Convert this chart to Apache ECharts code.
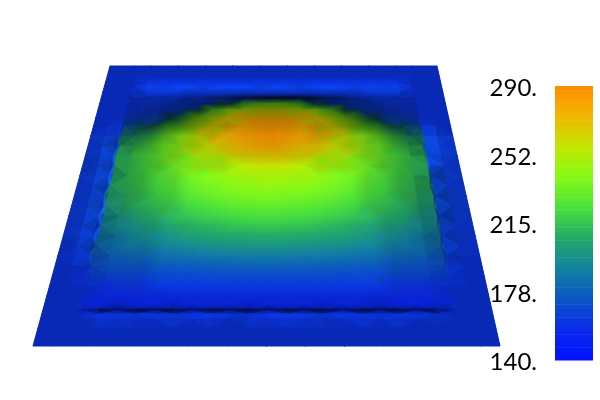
<!DOCTYPE html>
<html>
<head>
<meta charset="utf-8">
<style>html,body{margin:0;padding:0;background:#fff}#main{width:600px;height:400px}</style>
<script src="https://cdn.jsdelivr.net/npm/echarts@6/dist/echarts.min.js"></script>
</head>
<body>
<div id="main"></div>
<script>
// mesh rows, measured as distance from the front edge of the plate
var rowLevels = [280, 270, 263, 259, 254, 248, 242, 236, 228, 220, 210, 200, 190, 180, 170, 160, 150, 140, 130, 120, 110, 100, 90, 80, 70, 60, 50, 42, 37, 35, 32, 27, 18, 0];
// mesh columns across the plate, in 24ths of its width
var colLevels = [0, 1, 1.8, 2.1, 3, 4, 5, 6, 7, 8, 9, 10, 11, 12, 13, 14, 15, 16, 17, 18, 19, 20, 21, 21.9, 22.1, 23, 24];

// temperature at each mesh vertex, back row first
var temps = [
[160,160,160,160,160,160,160,160,160,160,160,160,160,160,160,160,160,160,160,160,160,160,160,160,160,160,160],
[160,160,160,160,160,160,160,160,160,160,160,160,160,160,160,160,160,160,160,160,160,160,160,160,160,160,160],
[160,160,160,160,160,160,160,160,160,160,160,160,160,160,160,160,160,160,160,160,160,160,160,160,160,160,160],
[160,160,160,160,164,164,164,164,164,164,164,164,164,164,164,164,164,164,164,164,164,164,164,160,160,160,160],
[160,160,160,160,162,162,162,162,162,162,162,162,162,162,162,162,162,162,162,162,162,162,162,160,160,160,160],
[160,160,160,160,162,162,162,162,162,162,162,162,162,162,162,162,162,162,162,162,162,162,162,160,160,160,160],
[160,160,160,160,162,162,162,162,162,175,200,222,235,240,235,222,200,175,162,162,162,162,162,160,160,160,160],
[160,160,160,160,162,162,162,170,205,232,246,255,260,262,260,255,246,232,205,170,162,162,162,160,160,160,160],
[160,160,160,162,165,172,195,222,243,256,266,272,276,277,276,272,266,256,243,222,195,172,165,162,160,160,160],
[160,160,162,170,182,200,222,238,252,264,273,279,283,285,283,279,273,264,252,238,222,200,182,170,162,160,160],
[160,165,165,198,206,219,233,245,256,266,274,280,284,286,283,278,274,266,256,245,233,219,206,198,165,165,160],
[160,168,168,205,213,224,235,245,254,262,270,274,279,280,276,272,268,262,254,245,235,224,213,205,168,168,160],
[160,165,166,208,216,225,234,242,249,255,261,265,267,269,267,264,261,255,249,242,234,225,216,208,166,165,160],
[160,168,168,208,215,222,229,236,242,247,252,255,257,258,257,255,252,247,242,236,229,222,215,208,168,168,160],
[160,165,166,207,214,220,226,231,236,241,245,247,249,250,249,247,245,241,236,231,226,220,214,207,166,165,160],
[160,168,168,205,213,218,223,228,232,236,239,242,243,244,243,242,239,236,232,228,223,218,213,205,168,168,160],
[160,165,166,202,210,215,219,223,227,231,234,236,237,238,237,236,234,231,227,223,219,215,210,202,166,165,160],
[160,168,168,198,206,210,214,218,221,224,227,229,230,231,230,229,227,224,221,218,214,210,206,198,168,168,160],
[160,165,166,194,201,205,209,212,215,218,220,222,223,224,223,222,220,218,215,212,209,205,201,194,166,165,160],
[160,166,166,190,195,198,201,204,207,210,212,214,215,215,215,214,212,210,207,204,201,198,195,190,166,166,160],
[160,164,165,185,190,193,196,198,201,203,205,206,207,207,207,206,205,203,201,198,196,193,190,185,165,164,160],
[160,164,165,180,184,187,189,191,193,195,196,197,198,198,198,197,196,195,193,191,189,187,184,180,165,164,160],
[160,162,164,175,178,180,181,183,184,186,187,187,188,188,188,187,187,186,184,183,181,180,178,175,164,162,160],
[160,162,162,170,172,173,174,175,176,176,177,177,178,178,178,177,177,176,176,175,174,173,172,170,162,162,160],
[160,160,160,165,166,167,167,168,168,168,169,169,169,169,169,169,169,168,168,168,167,167,166,165,160,160,160],
[160,160,160,160,160,160,161,161,161,162,162,162,162,162,162,162,162,162,161,161,161,160,160,160,160,160,160],
[160,160,160,158,156,156,156,156,157,157,157,157,157,157,157,157,157,157,157,156,156,156,156,158,160,160,160],
[160,160,160,157,155,155,155,155,155,155,155,155,155,155,155,155,155,155,155,155,155,155,155,157,160,160,160],
[160,160,160,157,155,155,155,155,155,155,155,155,155,155,155,155,155,155,155,155,155,155,155,157,160,160,160],
[160,160,160,157,155,155,155,155,155,155,155,155,155,155,155,155,155,155,155,155,155,155,155,157,160,160,160],
[160,160,160,160,160,160,160,160,160,160,160,160,160,160,160,160,160,160,160,160,160,160,160,160,160,160,160],
[160,160,160,160,162,162,162,162,162,162,162,162,162,162,162,162,162,162,162,162,162,162,162,160,160,160,160],
[160,160,160,160,160,160,160,160,160,160,160,160,160,160,160,160,160,160,160,160,160,160,160,160,160,160,160],
[160,160,160,160,160,160,160,160,160,160,160,160,160,160,160,160,160,160,160,160,160,160,160,160,160,160,160]
];

// surface lighting per vertex, one hex digit per column, tenths of full brightness
// each row: left wall + dome + right wall
var lighting = [
"8888" + "8888888888888888888" + "8888",
"8888" + "8888888888888888888" + "8888",
"8888" + "AAAAAAAAAAAAAAAAAAA" + "8888",
"8888" + "BABBABBBABBABBBABAB" + "8888",
"8888" + "AAA9999999999999AAA" + "8888",
"8887" + "7776654322223456777" + "7888",
"8887" + "7766543555553456677" + "7888",
"8887" + "7665356666666535667" + "7888",
"8887" + "6634567777777654366" + "7888",
"8896" + "5455677888887765545" + "6988",
"8996" + "6678889999998888766" + "6C98",
"8967" + "7788899999999988877" + "69B8",
"89C9" + "8888999999999998888" + "7B98",
"8868" + "8889999AAAAA9999888" + "9C98",
"89C6" + "8899AAAAAAAAAAA9988" + "8598",
"8959" + "8899AAAAAAAAAAA9988" + "6C98",
"88B7" + "8899AAAAAAAAAAA9988" + "9688",
"896A" + "8999AAAAAAAAAAA9998" + "7C98",
"88C6" + "899AAAAAAAAAAAAA998" + "9588",
"8958" + "999AAAAAAAAAAAAA999" + "7B98",
"89C7" + "899AAAAAAAAAAAAA998" + "8688",
"8868" + "999AAAAAAAAAAAAA999" + "7C98",
"89B7" + "999AAAAAAAAAAAAA999" + "8788",
"8878" + "999AAAAAAAAAAAAA999" + "8A88",
"8898" + "999AAAAAAAAAAAAA999" + "8988",
"8888" + "999AAAAAAAAAAAAA999" + "8888",
"8888" + "9999999999999999999" + "8888",
"8889" + "9899899989998998998" + "9888",
"8888" + "7676767676767676767" + "7888",
"8887" + "2321232123212321232" + "7888",
"8888" + "A9AB9ABA9AB9ABA9AB9" + "8888",
"8888" + "9A89A9A89A9A89A9A89" + "8888",
"8888" + "8888888888888888888" + "8888",
"8888" + "8888888888888888888" + "8888"
];

var colorStops = ["#0010ff", "#0a2aec", "#0a54c4", "#1282a0", "#22a868", "#48e03c", "#84fa18", "#c0e800", "#f0b800", "#ff8c00"];
var tickValues = [140, 177.5, 215, 252.5, 290];
var tickLabels = ["140.", "178.", "215.", "252.", "290."];

var tempMin = 140, tempMax = 290;
var plateDepth = 280;
var backEdge = [77, 404], frontEdge = [0, 467];
var lastCol = colLevels.length - 1;
var bandCount = 64;
// cells on the jagged walls and front ridge are flat shaded
var wallCells = [0, 1, 3, 22, 24, 25];
var ridgeRows = [28, 29, 30, 31];

var cells = [];
for (var r = 0; r < rowLevels.length - 1; r++) {
    for (var c = 0; c < lastCol; c++) {
        cells.push([c, r, temps[r][c]]);
    }
}
var bands = [];
for (var b = 0; b < bandCount; b++) {
    bands.push([0, tempMin + (tempMax - tempMin) * b / bandCount]);
}

function vertexRgb(r, c) {
    var t = (temps[r][c] - tempMin) / (tempMax - tempMin);
    var rgb = echarts.color.parse(echarts.color.lerp(t, colorStops));
    var k = parseInt(lighting[r].charAt(c), 16) / 10;
    return [Math.min(255, rgb[0] * k), Math.min(255, rgb[1] * k), Math.min(255, rgb[2] * k)];
}

function css(rgb) {
    return "rgb(" + Math.round(rgb[0]) + "," + Math.round(rgb[1]) + "," + Math.round(rgb[2]) + ")";
}

function luma(rgb) {
    return 0.3 * rgb[0] + 0.6 * rgb[1] + 0.1 * rgb[2];
}

function meanColor(col) {
    return [
        (col[0][0] + col[1][0] + col[2][0]) / 3,
        (col[0][1] + col[1][1] + col[2][1]) / 3,
        (col[0][2] + col[1][2] + col[2][2]) / 3
    ];
}

function vertexPoint(api, r, c) {
    var f = rowLevels[r] / plateDepth;
    var left = frontEdge[0] + (backEdge[0] - frontEdge[0]) * f;
    var right = frontEdge[1] + (backEdge[1] - frontEdge[1]) * f;
    return api.coord([left + (right - left) * colLevels[c] / 24, rowLevels[r]]);
}

// fills a triangle with a gradient running along the slope of its three corner colours
function triangle(p, col, flat) {
    var s = col.map(luma);
    var ax = p[1][0] - p[0][0], ay = p[1][1] - p[0][1];
    var bx = p[2][0] - p[0][0], by = p[2][1] - p[0][1];
    var det = ax * by - bx * ay;
    var gx = ((s[1] - s[0]) * by - (s[2] - s[0]) * ay) / det;
    var gy = (ax * (s[2] - s[0]) - bx * (s[1] - s[0])) / det;
    var len = Math.sqrt(gx * gx + gy * gy);
    var fill;
    if (flat || len < 1e-3) {
        fill = css(meanColor(col));
    } else {
        var dx = gx / len, dy = gy / len;
        var t = p.map(function (q) { return q[0] * dx + q[1] * dy; });
        var order = [0, 1, 2].sort(function (i, j) { return t[i] - t[j]; });
        var lo = order[0], mid = order[1], hi = order[2];
        var span = t[hi] - t[lo];
        fill = new echarts.graphic.LinearGradient(
            p[lo][0], p[lo][1], p[lo][0] + dx * span, p[lo][1] + dy * span,
            [
                { offset: 0, color: css(col[lo]) },
                { offset: (t[mid] - t[lo]) / span, color: css(col[mid]) },
                { offset: 1, color: css(col[hi]) }
            ],
            true
        );
    }
    return {
        type: "polygon",
        shape: { points: p },
        style: { fill: fill, stroke: fill, lineWidth: 1 }
    };
}

function renderCell(params, api) {
    var c = api.value(0), r = api.value(1);
    var a = vertexPoint(api, r, c), b = vertexPoint(api, r, c + 1);
    var d = vertexPoint(api, r + 1, c), e = vertexPoint(api, r + 1, c + 1);
    var ca = vertexRgb(r, c), cb = vertexRgb(r, c + 1);
    var cd = vertexRgb(r + 1, c), ce = vertexRgb(r + 1, c + 1);
    var flat = wallCells.indexOf(c) >= 0 || ridgeRows.indexOf(r) >= 0;
    var children;
    if ((r + c) % 2 === 0) {
        children = [triangle([a, b, e], [ca, cb, ce], flat), triangle([a, d, e], [ca, cd, ce], flat)];
    } else {
        children = [triangle([a, b, d], [ca, cb, cd], flat), triangle([b, d, e], [cb, cd, ce], flat)];
    }
    return { type: "group", children: children };
}

function renderBand(params, api) {
    var v = api.value(1);
    var step = (tempMax - tempMin) / bandCount;
    var p0 = api.coord([0, v + step]);
    var p1 = api.coord([1, v]);
    return {
        type: "rect",
        shape: { x: p0[0], y: p0[1], width: p1[0] - p0[0], height: p1[1] - p0[1] + 0.5 },
        style: { fill: echarts.color.lerp((v + step / 2 - tempMin) / (tempMax - tempMin), colorStops) }
    };
}

var myChart = echarts.init(document.getElementById("main"));
var option = {
    animation: false,
    backgroundColor: "#fff",
    grid: [
        { left: 33, top: 66, width: 467, height: 280 },
        { left: 555, top: 86, width: 38, height: 274 },
        // the labels sit a little below the colour bar's ticks, so they get their own frame
        { left: 555, top: 88.5, width: 38, height: 274 }
    ],
    xAxis: [
        { gridIndex: 0, type: "value", min: 0, max: 467, show: false },
        { gridIndex: 1, type: "value", min: 0, max: 1, show: false },
        { gridIndex: 2, type: "value", min: 0, max: 1, show: false }
    ],
    yAxis: [
        { gridIndex: 0, type: "value", min: 0, max: plateDepth, show: false },
        { gridIndex: 1, type: "value", min: tempMin, max: tempMax, show: false },
        {
            gridIndex: 2, type: "value", min: tempMin, max: tempMax,
            axisLine: { show: false },
            axisTick: { show: false },
            splitLine: { show: false },
            axisLabel: {
                customValues: tickValues,
                margin: 18,
                color: "#000",
                fontFamily: "Lato",
                fontSize: 24,
                formatter: function (v) {
                    return tickLabels[tickValues.indexOf(v)];
                }
            }
        }
    ],
    series: [{
        type: "custom",
        xAxisIndex: 0,
        yAxisIndex: 0,
        silent: true,
        clip: false,
        renderItem: renderCell,
        data: cells
    }, {
        type: "custom",
        xAxisIndex: 1,
        yAxisIndex: 1,
        silent: true,
        renderItem: renderBand,
        data: bands
    }]
};
myChart.setOption(option);
</script>
</body>
</html>
